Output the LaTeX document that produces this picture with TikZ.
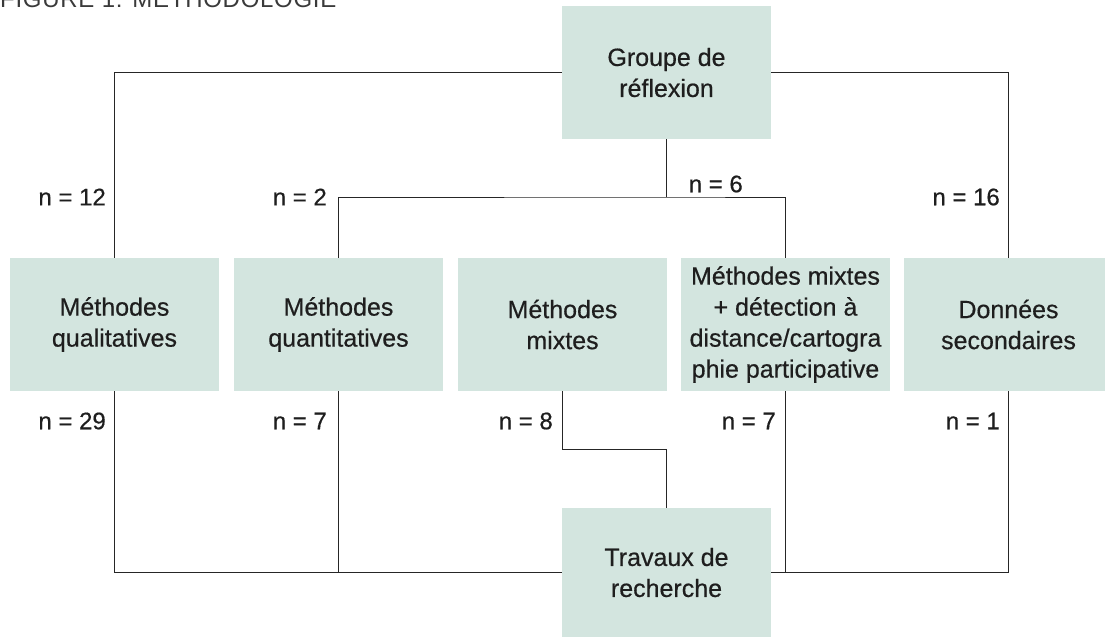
\documentclass[tikz,border=0pt]{standalone}
\usepackage{fontspec}
\setmainfont{Liberation Sans}
\newfontfamily\boxfont[FakeBold=0.5]{Liberation Sans}
\newfontfamily\titlefont[LetterSpace=3]{Liberation Sans}
\definecolor{boxfill}{HTML}{D3E5DF}
\definecolor{txt}{HTML}{1E1E1E}
\definecolor{ttl}{HTML}{3A3A3A}
\begin{document}
\begin{tikzpicture}[x=1pt,y=-1pt,
  box/.style={fill=boxfill, draw=none, minimum width=209pt, minimum height=133pt,
    inner sep=0pt, align=center, text=txt, font=\boxfont\fontsize{25}{31}\selectfont},
  lbl/.style={anchor=east, text=txt, inner sep=0pt, font=\boxfont\fontsize{24}{28}\selectfont},
  conn/.style={draw=black!85, line width=1pt}]
\useasboundingbox (0,0) rectangle (1105,637);
\node[anchor=base west, inner sep=0pt, text=ttl, font=\titlefont\fontsize{24}{28}\selectfont] (title) at (0,7) {FIGURE 1: MÉTHODOLOGIE};
% boxes
\node[box] (g) at (666.5,72.5) {Groupe de\\réflexion};
\node[box] (b1) at (114.5,324.5) {Méthodes\\qualitatives};
\node[box] (b2) at (338.5,324.5) {Méthodes\\quantitatives};
\node[box] (b3) at (562.5,324.5) {Méthodes\\mixtes};
\node[box] (b4) at (785.5,324.5) {Méthodes mixtes\\+ détection à\\distance/cartogra\\phie participative};
\node[box] (b5) at (1008.5,324.5) {Données\\secondaires};
\node[box, minimum height=129pt] (t) at (666.5,572.5) {Travaux de\\recherche};
% junctions
\coordinate (j1) at (666.5,197);
\coordinate (j2) at (562.5,449);
\coordinate (j3) at (338.5,572.5);
\coordinate (j4) at (785.5,572.5);
% connectors
\draw[conn] (g.west) -| (b1.north);
\draw[conn] (g.east) -| (b5.north);
\draw[conn] (g.south) -- (j1);
\draw[conn] (b2.north) |- (j1) -| (b4.north);
\draw[conn] (b1.south) |- (t.west);
\draw[conn] (b5.south) |- (t.east);
\draw[conn] (b2.south) -- (j3);
\draw[conn] (b4.south) -- (j4);
\draw[conn] (b3.south) -- (j2) -| (t.north);
% labels
\node[lbl] (l1) at (106,197) {n = 12};
\node[lbl] (l2) at (327,197) {n = 2};
\node[lbl] (l3) at (743,184) {n = 6};
\node[lbl] (l4) at (1000,197) {n = 16};
\node[lbl] (l5) at (106,421) {n = 29};
\node[lbl] (l6) at (327,421) {n = 7};
\node[lbl] (l7) at (553,421) {n = 8};
\node[lbl] (l8) at (776,421) {n = 7};
\node[lbl] (l9) at (1000,421) {n = 1};
\end{tikzpicture}
\end{document}
